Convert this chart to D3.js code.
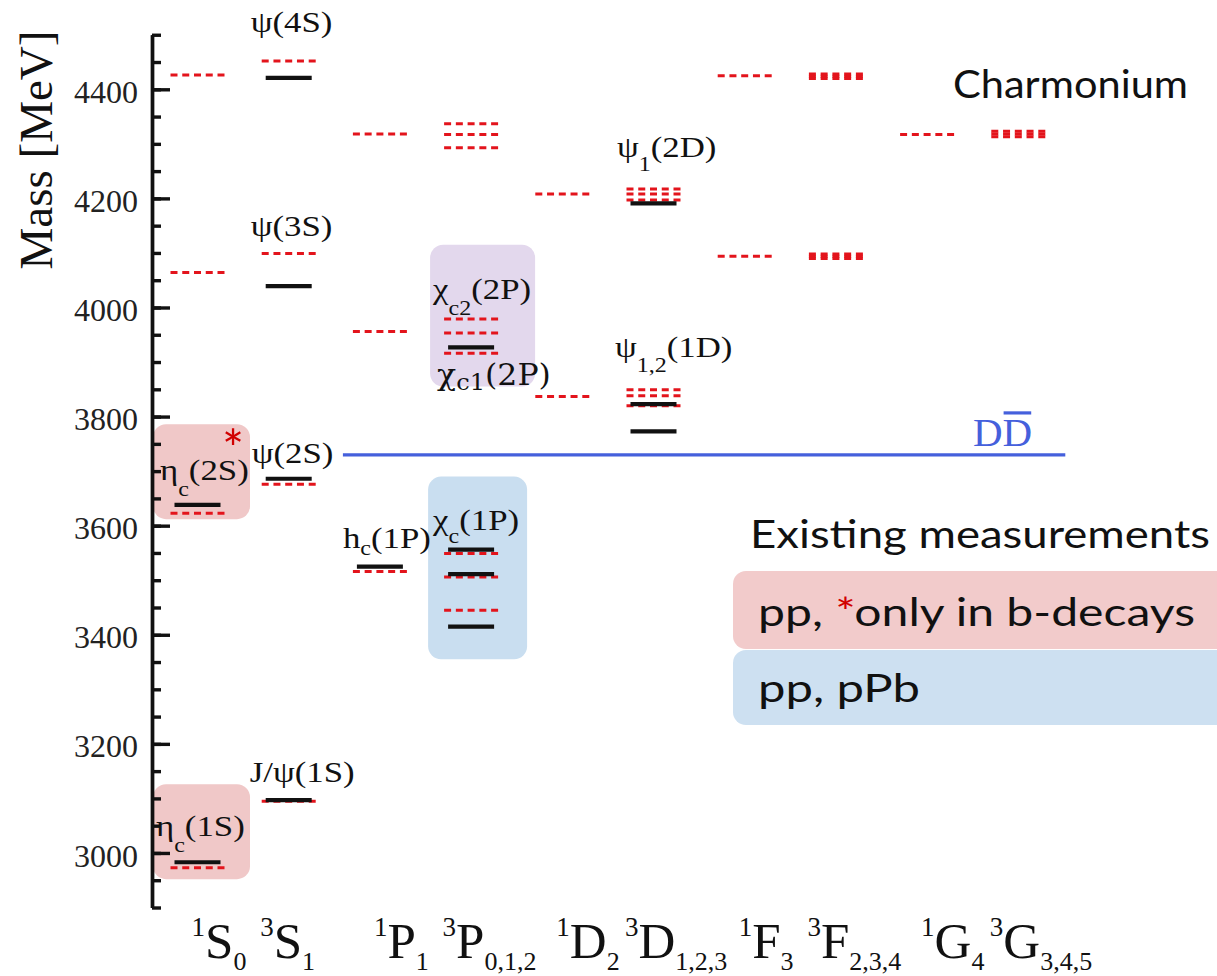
<!DOCTYPE html>
<html><head><meta charset="utf-8">
<script src="https://cdn.jsdelivr.net/npm/d3@7"></script>
<style>
body{margin:0;background:#fff;}
svg{display:block;}
</style></head>
<body><svg id="chart" width="1217" height="976"></svg>
<script>
// ---------------- data ----------------
const categories = ["1S0","3S1","1P1","3P012","1D2","3D123","1F3","3F234","1G4","3G345"];
const catSup  = ["1","3","1","3","1","3","1","3","1","3"];
const catBase = ["S","S","P","P","D","D","F","F","G","G"];
const catSub  = ["0","1","1","0,1,2","2","1,2,3","3","2,3,4","4","3,4,5"];

const massDomain = [2900, 4500];
const majorTicks = [3000,3200,3400,3600,3800,4000,4200,4400];
const minorStep = 50;

// theory predictions (red dashed)
const theoryLevels = [
 ["1S0",2973],["1S0",3623],["1S0",4064],["1S0",4426],
 ["3S1",3095],["3S1",3676],["3S1",4099],["3S1",4452],
 ["1P1",3516],["1P1",3956],["1P1",4318],
 ["3P012",3445],["3P012",3506],["3P012",3549],["3P012",3916],["3P012",3953],["3P012",3979],
 ["3P012",4293],["3P012",4317],["3P012",4337],
 ["1D2",3837],["1D2",4208],
 ["3D123",3820],["3D123",3838],["3D123",3849],["3D123",4197],["3D123",4208],["3D123",4217],
 ["1F3",4094],["1F3",4425],
 ["3F234",4090],["3F234",4094],["3F234",4098],["3F234",4420],["3F234",4424],["3F234",4428],
 ["1G4",4317],
 ["3G345",4313],["3G345",4318],["3G345",4323]
];
// measured states (black)
const measuredLevels = [
 ["1S0",2983],["1S0",3638],
 ["3S1",3097],["3S1",3686],["3S1",4039],["3S1",4421],
 ["1P1",3525],
 ["3P012",3415],["3P012",3511],["3P012",3556],["3P012",3927],
 ["3D123",3773],["3D123",3823],["3D123",4191]
];
const ddThreshold = 3729.7;

// highlighted groups: column, mass range, kind
const highlightBoxes = [
 ["1S0",2952,3126,"pink"],
 ["1S0",3612,3786,"pink"],
 ["3P012",3855,4115,"purple"],
 ["3P012",3355,3690,"blue"]
];

// state names: parts [text, "n"|"s"], column, mass of the level named
const stateLabels = [
 [[["ψ(4S)","n"]],"3S1",4421],
 [[["ψ(3S)","n"]],"3S1",4039],
 [[["ψ(2S)","n"]],"3S1",3686],
 [[["J/ψ(1S)","n"]],"3S1",3097],
 [[["η","n"],["c","s"],["(1S)","n"]],"1S0",2983],
 [[["η","n"],["c","s"],["(2S)","n"]],"1S0",3638],
 [[["h","n"],["c","s"],["(1P)","n"]],"1P1",3525],
 [[["χ","n"],["c","s"],["(1P)","n"]],"3P012",3556],
 [[["χ","n"],["c2","s"],["(2P)","n"]],"3P012",3927],
 [[["χ","n"],["c1","s"],["(2P)","n"]],"3P012",3927],
 [[["ψ","n"],["1","s"],["(2D)","n"]],"3D123",4191],
 [[["ψ","n"],["1,2","s"],["(1D)","n"]],"3D123",3823]
];

// ---------------- layout / style ----------------
const labelLayout = [ // dx, dy, subShift, alt font
 [-38,-46,14,false],[-38,-50,14,false],[-37,-16,14,false],[-39,-18,14,false],
 [-41.5,-26,16,false],[-37.5,-25,16,false],[-37,-18.6,7,false],[-38,-20,13,false],
 [-38,-48,16,false],[-34,38,5,true],[-36.5,-46,14,false],[-38.5,-47,15,false]
];
const boxPad = {pink:[-44.5,52.5], purple:[-41,64], blue:[-43,56]};
const boxFill = {pink:"#f0c8c8", purple:"#e3d8ed", blue:"#c9def0"};
const RED = "#e3141c", BLACK = "#111", BLUE = "#4560dc";
const SERIF = "Liberation Serif, Times New Roman, serif";

const svg = d3.select("#chart");
const x = d3.scalePoint().domain(categories).range([197.5, 1018.3]);
const y = d3.scaleLinear().domain(massDomain).range([907.5, 34.75]);

// highlight boxes
svg.append("g").selectAll("rect").data(highlightBoxes).join("rect")
  .attr("x", d => x(d[0]) + boxPad[d[3]][0])
  .attr("width", d => boxPad[d[3]][1] - boxPad[d[3]][0])
  .attr("y", d => y(d[2]))
  .attr("height", d => y(d[1]) - y(d[2]))
  .attr("rx", 13)
  .attr("fill", d => boxFill[d[3]]);

// DD threshold
svg.append("line")
  .attr("x1", x("1P1") - 37).attr("x2", x("3G345") + 47)
  .attr("y1", y(ddThreshold)).attr("y2", y(ddThreshold))
  .attr("stroke", BLUE).attr("stroke-width", 3.2);
const dd = svg.append("text")
  .attr("x", 973).attr("y", y(ddThreshold) - 9)
  .attr("font-family", SERIF)
  .attr("font-size", 41).attr("fill", BLUE).text("DD");
{
  const n = dd.node();
  const s = n.getStartPositionOfChar(1).x, e = n.getEndPositionOfChar(1).x;
  svg.append("line").attr("x1", s + 1).attr("x2", e - 1)
    .attr("y1", y(ddThreshold) - 42).attr("y2", y(ddThreshold) - 42)
    .attr("stroke", BLUE).attr("stroke-width", 3.2);
}

// theory levels
svg.append("g").selectAll("line").data(theoryLevels).join("line")
  .attr("x1", d => x(d[0]) - 27).attr("x2", d => x(d[0]) + 27)
  .attr("y1", d => y(d[1])).attr("y2", d => y(d[1]))
  .attr("stroke", RED).attr("stroke-width", 3)
  .attr("stroke-dasharray", "7 4.75");

// measured levels
svg.append("g").selectAll("line").data(measuredLevels).join("line")
  .attr("x1", d => x(d[0]) - 23).attr("x2", d => x(d[0]) + 23)
  .attr("y1", d => y(d[1])).attr("y2", d => y(d[1]))
  .attr("stroke", BLACK).attr("stroke-width", 4.2);

// y axis
const axisG = svg.append("g").attr("transform", "translate(152,0)");
axisG.call(d3.axisLeft(y).tickValues(d3.range(massDomain[0], massDomain[1] + 1, minorStep))
  .tickSize(-9).tickSizeOuter(0).tickFormat(""));
const majG = axisG.append("g").call(d3.axisLeft(y).tickValues(majorTicks)
  .tickSize(-18).tickSizeOuter(0).tickPadding(14).tickFormat(d3.format("d")));
axisG.selectAll("path,line").attr("stroke", BLACK).attr("stroke-width", 3.4);
majG.selectAll("text")
  .attr("font-family", SERIF)
  .attr("font-size", 32).attr("fill", "#222").attr("dy", "0.41em");

svg.append("text")
  .attr("transform", "translate(52,150) rotate(-90)")
  .attr("text-anchor", "middle")
  .attr("font-family", SERIF)
  .attr("font-size", 47).attr("fill", "#111").text("Mass [MeV]");

// category labels
const catG = svg.append("g").attr("font-family", SERIF).attr("fill", "#111");
categories.forEach((c, i) => {
  const t = catG.append("text")
    .attr("x", x(c) + (catSup[i] === "1" ? -6 : -28.5)).attr("y", 958);
  t.append("tspan").attr("font-size", 27).attr("dy", -22).text(catSup[i]);
  t.append("tspan").attr("font-size", 51).attr("dy", 22).text(catBase[i]);
  t.append("tspan").attr("font-size", 26).attr("dy", 12).text(catSub[i]);
});

// state labels (horizontally widened like the reference lettering)
stateLabels.forEach((L, i) => {
  const [dx, dy, sh, alt] = labelLayout[i];
  const t = svg.append("text")
    .attr("transform", `translate(${x(L[1]) + dx},${y(L[2]) + dy}) scale(${alt ? 1.05 : 1.2},1)`)
    .attr("font-family", alt ? "DejaVu Serif, serif" : SERIF)
    .attr("fill", "#111");
  let cur = 0;
  L[0].forEach(p => {
    const isSub = p[1] === "s";
    const target = isSub ? sh : 0;
    t.append("tspan")
      .attr("font-size", alt ? (isSub ? 23 : 30) : (isSub ? 20 : 29))
      .attr("dy", target - cur).text(p[0]);
    cur = target;
  });
});

// red star on eta_c(2S)
svg.append("text").attr("x", 233).attr("y", 468).attr("text-anchor", "middle")
  .attr("font-family", "Lato, sans-serif").attr("font-size", 52).attr("fill", "#d10000").text("*");

// title
svg.append("text").attr("x", 953).attr("y", 98)
  .attr("font-family", "Lato, sans-serif").attr("font-size", 39).attr("fill", "#111")
  .attr("textLength", 235).attr("lengthAdjust", "spacingAndGlyphs").text("Charmonium");

// legend
svg.append("text").attr("x", 750).attr("y", 548)
  .attr("font-family", "Lato, sans-serif").attr("font-size", 39).attr("fill", "#111")
  .attr("textLength", 460).attr("lengthAdjust", "spacingAndGlyphs").text("Existing measurements");
svg.append("rect").attr("x", 733).attr("y", 571).attr("width", 520).attr("height", 78)
  .attr("rx", 13).attr("fill", "#f2cbcb");
svg.append("rect").attr("x", 733).attr("y", 650).attr("width", 520).attr("height", 75)
  .attr("rx", 13).attr("fill", "#cde0f1");
const l1 = svg.append("text").attr("x", 758).attr("y", 626)
  .attr("font-family", "Lato, sans-serif").attr("font-size", 39).attr("fill", "#111")
  .attr("textLength", 437).attr("lengthAdjust", "spacingAndGlyphs");
l1.append("tspan").text("pp, ");
l1.append("tspan").attr("fill", "#d10000").text("*");
l1.append("tspan").text("only in b-decays");
svg.append("text").attr("x", 758).attr("y", 702)
  .attr("font-family", "Lato, sans-serif").attr("font-size", 39).attr("fill", "#111")
  .attr("textLength", 162).attr("lengthAdjust", "spacingAndGlyphs").text("pp, pPb");
</script>
</body></html>
